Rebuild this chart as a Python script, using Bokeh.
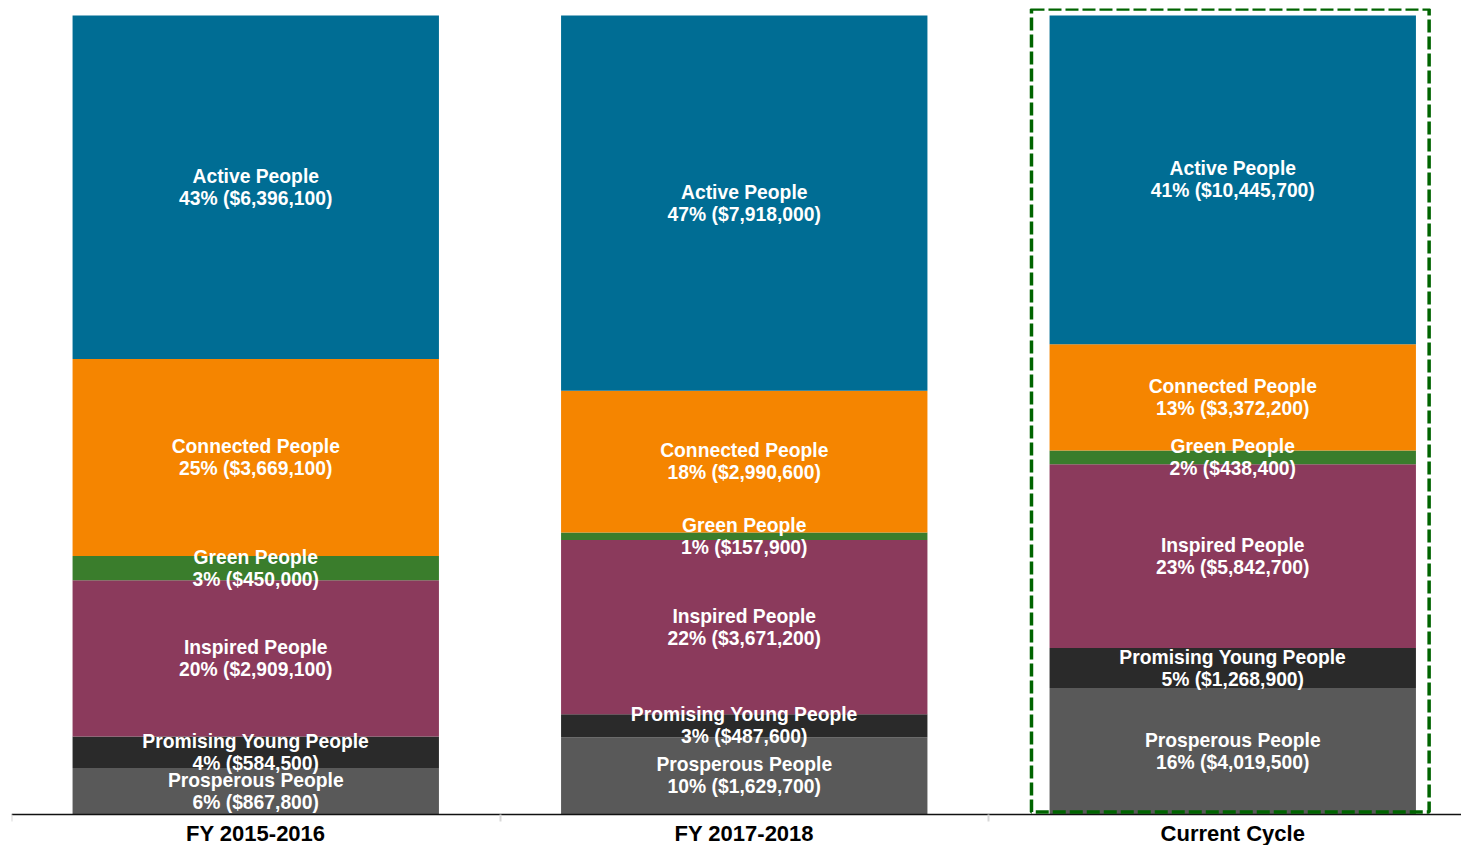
import numpy as np
from bokeh.plotting import figure
from bokeh.models import Range1d, LinearAxis, FixedTicker, BoxAnnotation, ColumnDataSource
from bokeh.core.properties import value
from bokeh.embed import file_html
from bokeh.resources import INLINE

# ---- data ----
periods = ["FY 2015-2016", "FY 2017-2018", "Current Cycle"]
segments = ["Prosperous People", "Promising Young People", "Inspired People",
            "Green People", "Connected People", "Active People"]
prosperous = [867800, 1629700, 4019500]
promising = [584500, 487600, 1268900]
inspired = [2909100, 3671200, 5842700]
green = [450000, 157900, 438400]
connected = [3669100, 2990600, 3372200]
active = [6396100, 7918000, 10445700]
colors = ["#595959", "#2a2a2a", "#8b3a5c", "#3a7d2c", "#f58500", "#006d94"]
highlight = "Current Cycle"

series = [prosperous, promising, inspired, green, connected, active]
vals = np.array(series, dtype=float)            # segments x periods
totals = vals.sum(axis=0)
frac = vals / totals
tops = np.cumsum(frac, axis=0)
bottoms = tops - frac

xc = np.arange(len(periods)) + 0.5
bar_w = 0.75

PX_PER_CAT = 488.5
PX_PER_UNIT = 799.0
FW = 1450
p = figure(width=1461, height=845,
           x_range=Range1d(0, FW / PX_PER_CAT),
           y_range=Range1d(-31 / PX_PER_UNIT, 806 / PX_PER_UNIT),
           output_backend="svg", toolbar_location=None,
           min_border_left=11, min_border_right=0, min_border_top=8, min_border_bottom=0,
           x_axis_location=None, y_axis_location=None)
p.outline_line_color = None
p.xgrid.visible = False
p.ygrid.visible = False
p.background_fill_color = "white"

xs, ys, labels = [], [], []
for i, seg in enumerate(segments):
    src = ColumnDataSource(dict(x=xc, bottom=bottoms[i], top=tops[i]))
    p.vbar(x="x", width=bar_w, bottom="bottom", top="top", source=src,
           fill_color=colors[i], line_color=None)
    for j in range(len(periods)):
        xs.append(xc[j])
        ys.append((bottoms[i, j] + tops[i, j]) / 2)
        pct = int(round(frac[i, j] * 100))
        labels.append(f"{seg}\n{pct}% (${int(vals[i, j]):,})")

p.text(x=xs, y=ys, text=labels, text_align="center", text_baseline="middle",
       text_color="white", text_font=value("Liberation Sans"), text_font_style="bold",
       text_font_size="19.3px", text_line_height=1.05)

# highlight box around the current cycle bar
hi = periods.index(highlight) + 0.5
box = BoxAnnotation(left=hi - 0.412, right=hi + 0.402, bottom=0.003, top=1.008,
                    fill_alpha=0, line_color="#006400", line_alpha=1.0, line_width=3.5,
                    line_dash="13 4")
p.add_layout(box)

ticker = FixedTicker(ticks=list(xc), minor_ticks=list(range(len(periods))))
ax = LinearAxis(ticker=ticker, fixed_location=0)
ax.major_label_overrides = {float(x): lab for x, lab in zip(xc, periods)}
ax.major_tick_line_color = None
ax.major_tick_in = 0
ax.major_tick_out = 0
ax.minor_tick_in = 0
ax.minor_tick_out = 7
ax.minor_tick_line_color = "#d9d9d9"
ax.minor_tick_line_width = 2
ax.axis_line_color = "#111111"
ax.axis_line_width = 1.5
ax.major_label_standoff = -1
ax.major_label_text_font = "Liberation Sans"
ax.major_label_text_font_style = "bold"
ax.major_label_text_font_size = "22px"
ax.major_label_text_color = "black"
p.add_layout(ax, "below")

open("out.html", "w").write(file_html(p, INLINE))
